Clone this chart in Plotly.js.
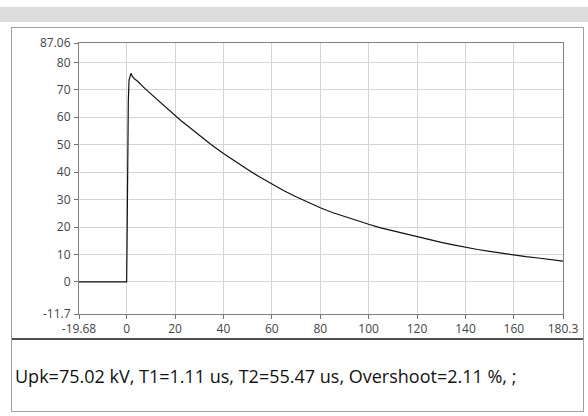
<!DOCTYPE html>
<html>
<head>
<meta charset="utf-8">
<script src="https://cdn.plot.ly/plotly-3.0.1.min.js"></script>
<style>
  html, body { margin: 0; padding: 0; background: #ffffff; width: 588px; height: 416px; overflow: hidden; position: relative; }
  #band { position: absolute; left: 0; top: 7px; width: 588px; height: 15px; background: #dcdcdc; }
  #frame { position: absolute; left: 11px; top: 27px; width: 571px; height: 383px; border: 1px solid #a0a0a0; }
  #sep { position: absolute; left: 12px; top: 338px; width: 571px; height: 2px; background: #505050; }
  #chart { position: absolute; left: 0; top: 0; width: 588px; height: 416px; }
</style>
</head>
<body>
<div id="band"></div>
<div id="frame"></div>
<div id="sep"></div>
<div id="chart"></div>
<script>
// time (us) and voltage (kV)
const timeUs = [-19.68, 0, 0.15, 0.4, 0.7, 1.0, 1.4, 1.8, 2.3, 2.8, 3.4, 4.2, 5.0, 6.0, 7.5, 10, 12.5, 15, 17.5, 20, 22.5, 25, 27.5, 30, 35, 40, 45, 50, 55, 60, 65, 70, 75, 80, 85, 90, 95, 100, 105, 110, 115, 120, 125, 130, 135, 140, 145, 150, 155, 160, 165, 170, 175, 180.3];
const voltageKv = [0, 0, 12, 45, 66, 73.5, 75.4, 76.0, 75.0, 74.2, 73.8, 73.4, 72.6, 71.8, 70.5, 68.5, 66.5, 64.5, 62.5, 60.5, 58.7, 57.0, 55.2, 53.5, 50.0, 46.8, 43.8, 41.0, 38.2, 35.6, 33.2, 31.0, 28.9, 27.0, 25.3, 23.8, 22.3, 21.0, 19.7, 18.6, 17.5, 16.4, 15.3, 14.4, 13.5, 12.6, 11.8, 11.1, 10.4, 9.8, 9.2, 8.7, 8.1, 7.6];

const xTickVals = [-19.68, 0, 20, 40, 60, 80, 100, 120, 140, 160, 180.3];
const xTickText = ["-19.68", "0", "20", "40", "60", "80", "100", "120", "140", "160", "180.3"];
const yTickVals = [-11.7, 0, 10, 20, 30, 40, 50, 60, 70, 80, 87.06];
const yTickText = ["-11.7", "0", "10", "20", "30", "40", "50", "60", "70", "80", "87.06"];

const resultText = "Upk=75.02 kV, T1=1.11 us, T2=55.47 us, Overshoot=2.11 %, ;";

const fontFam = "'Open Sans', 'Noto Sans', sans-serif";

const trace = {
  x: timeUs, y: voltageKv, type: 'scatter', mode: 'lines',
  line: { color: '#111111', width: 1.2 }, hoverinfo: 'skip', showlegend: false
};

const axisCommon = {
  showgrid: true, gridcolor: '#d4d4d4', gridwidth: 1,
  showline: true, mirror: true, linecolor: '#808080', linewidth: 1,
  ticks: 'outside', ticklen: 4, tickcolor: '#707070', tickwidth: 1,
  zeroline: false, fixedrange: true,
  tickfont: { family: fontFam, size: 12, color: '#444444' }
};

const layout = {
  width: 588, height: 416,
  margin: { l: 79, r: 25, t: 43, b: 102 },
  paper_bgcolor: 'rgba(0,0,0,0)', plot_bgcolor: '#ffffff',
  showlegend: false,
  xaxis: Object.assign({}, axisCommon, { range: [-19.68, 180.3], tickmode: 'array', tickvals: xTickVals, ticktext: xTickText }),
  yaxis: Object.assign({}, axisCommon, { range: [-11.7, 87.06], tickmode: 'array', tickvals: yTickVals, ticktext: yTickText, ticklabelstandoff: 1 }),
  annotations: [{
    text: resultText, xref: 'paper', yref: 'paper',
    x: -0.136, y: -0.229, xanchor: 'left', yanchor: 'middle', showarrow: false,
    font: { family: fontFam, size: 18, color: '#111111' }
  }]
};

Plotly.newPlot('chart', [trace], layout, { displayModeBar: false, staticPlot: true });
</script>
</body>
</html>
